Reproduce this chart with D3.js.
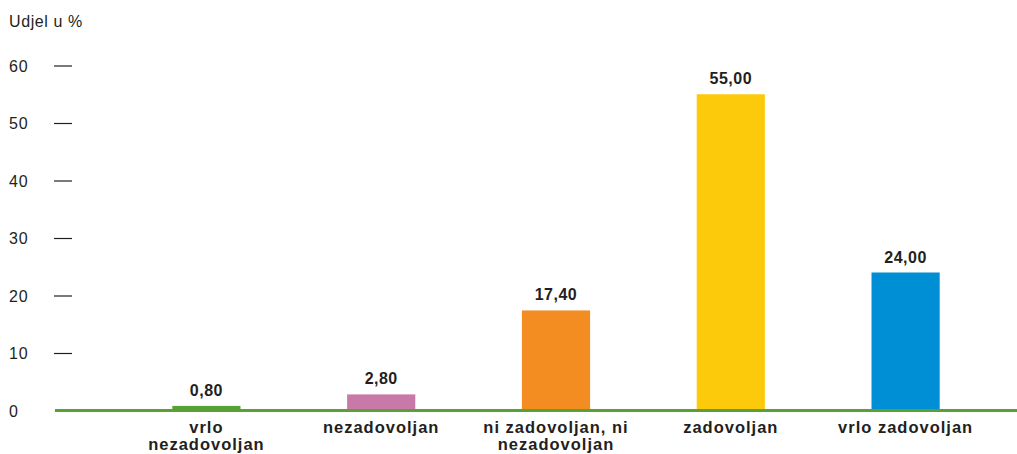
<!DOCTYPE html>
<html>
<head>
<meta charset="utf-8">
<script src="https://cdn.jsdelivr.net/npm/d3@7"></script>
<style>
    body { margin: 0; background: #fff; }
    text { font-family: "Liberation Sans", Arial, Helvetica, sans-serif; fill: #231f20; }
</style>
</head>
<body>
<script>
const categories = ['vrlo nezadovoljan', 'nezadovoljan', 'ni zadovoljan, ni nezadovoljan', 'zadovoljan', 'vrlo zadovoljan'];
const labelLines = [['vrlo', 'nezadovoljan'], ['nezadovoljan'], ['ni zadovoljan, ni', 'nezadovoljan'], ['zadovoljan'], ['vrlo zadovoljan']];
const values = [0.8, 2.8, 17.4, 55, 24];
const colors = ['#5aa135', '#c979a7', '#f38c21', '#fdca0b', '#008fd5'];
const yTicks = [0, 10, 20, 30, 40, 50, 60];
const yTitle = 'Udjel u %';

const svgWidth = 1017;
const svgHeight = 454;

const svg = d3.select('body')
    .append('svg')
    .attr('width', svgWidth)
    .attr('height', svgHeight);

const x = d3.scaleBand()
    .domain(categories)
    .range([119, 993])
    .paddingInner(0.61)
    .paddingOuter(0.305);

const y = d3.scaleLinear()
    .domain([0, 60])
    .range([410.5, 65.5]);

// y axis: short dashes, labels pushed to the left edge
const yAxis = svg.append('g')
    .attr('transform', 'translate(72,0)')
    .call(d3.axisLeft(y).tickValues(yTicks).tickSize(18).tickFormat(d3.format('d')));

yAxis.select('.domain').remove();
yAxis.selectAll('line')
    .attr('stroke', '#231f20')
    .attr('stroke-width', 1.2);
yAxis.selectAll('line').filter(d => d === 0).remove();
yAxis.selectAll('text')
    .attr('x', -63)
    .attr('dy', '0.36em')
    .style('text-anchor', 'start')
    .style('font-size', '16px')
    .style('letter-spacing', '0.8px')
    .style('font-family', '"Liberation Sans", Arial, sans-serif')
    .style('fill', '#231f20');

svg.append('text')
    .attr('x', 9)
    .attr('y', 27)
    .style('font-size', '16px')
    .style('letter-spacing', '0.6px')
    .text(yTitle);

svg.selectAll('.bar')
    .data(values)
    .enter()
    .append('rect')
    .attr('class', 'bar')
    .attr('x', (d, i) => x(categories[i]))
    .attr('y', d => y(d))
    .attr('width', x.bandwidth())
    .attr('height', d => y(0) - y(d))
    .attr('fill', (d, i) => colors[i]);

// baseline
svg.append('line')
    .attr('x1', 55)
    .attr('x2', svgWidth)
    .attr('y1', y(0))
    .attr('y2', y(0))
    .attr('stroke', colors[0])
    .attr('stroke-width', 3);

// value labels
svg.selectAll('.value')
    .data(values)
    .enter()
    .append('text')
    .attr('class', 'value')
    .attr('x', (d, i) => x(categories[i]) + x.bandwidth() / 2)
    .attr('y', d => y(d) - 10)
    .attr('text-anchor', 'middle')
    .style('font-size', '16px')
    .style('font-weight', 'bold')
    .style('letter-spacing', '0.5px')
    .text(d => d3.format('.2f')(d).replace('.', ','));

// category labels
const cat = svg.selectAll('.cat')
    .data(categories)
    .enter()
    .append('text')
    .attr('class', 'cat')
    .attr('text-anchor', 'middle')
    .style('font-size', '16.5px')
    .style('font-weight', 'bold')
    .style('letter-spacing', '1px');

cat.each(function (d, i) {
    const cx = x(d) + x.bandwidth() / 2;
    d3.select(this).selectAll('tspan')
        .data(labelLines[i])
        .enter()
        .append('tspan')
        .attr('x', cx)
        .attr('y', (line, j) => 432.5 + j * 17)
        .text(line => line);
});
</script>
</body>
</html>
